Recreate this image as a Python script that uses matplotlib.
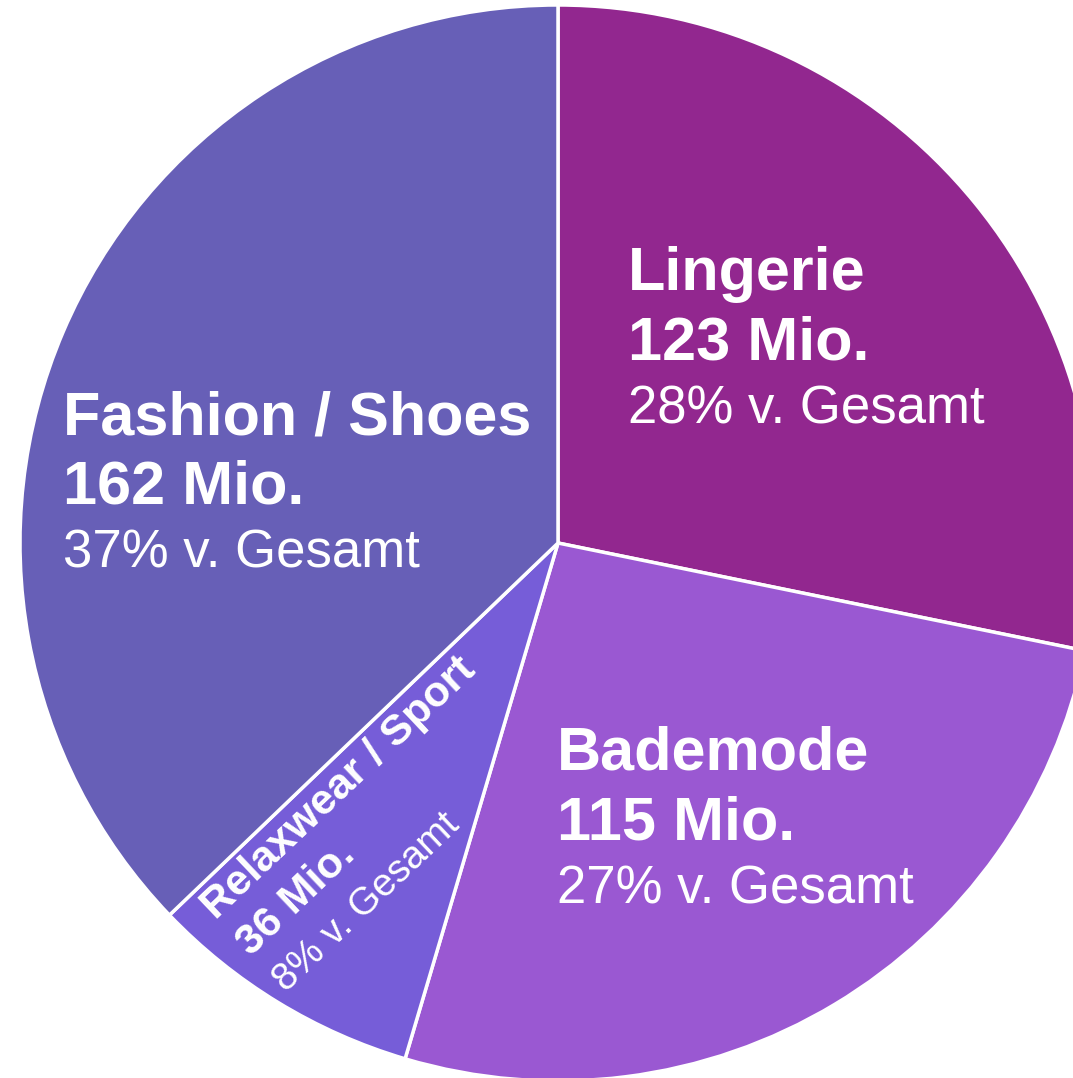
import math

import matplotlib
matplotlib.use("Agg")
import matplotlib.pyplot as plt

W, H = 1073, 1078

# data (clockwise from 12 o'clock)
categories = ["Lingerie", "Bademode", "Relaxwear / Sport", "Fashion / Shoes"]
values = [123, 115, 36, 162]
amounts = ["123 Mio.", "115 Mio.", "36 Mio.", "162 Mio."]
shares = ["28% v. Gesamt", "27% v. Gesamt", "8% v. Gesamt", "37% v. Gesamt"]
colors = ["#92278F", "#9A58D2", "#765DD8", "#675FB7"]

plt.rcParams["font.family"] = ["Liberation Sans", "DejaVu Sans"]

fig = plt.figure(figsize=(W / 100, H / 100), dpi=100)
ax = fig.add_axes([0, 0, 1, 1])

cx, cy, r = 558, 543, 538
ax.pie(values, colors=colors, startangle=90, counterclock=False,
       center=(cx, H - cy), radius=r,
       wedgeprops=dict(edgecolor="white", linewidth=2.5))
ax.set_xlim(0, W)
ax.set_ylim(0, H)
ax.set_aspect("equal")
ax.set_axis_off()


def label(x, y, i, big=44, small=38, gap1=69, gap2=64):
    # x, y: left/baseline of first line, pixel coords from top
    ax.text(x, H - y, categories[i], color="white", fontsize=big,
            fontweight="bold", ha="left", va="baseline")
    ax.text(x, H - y - gap1, amounts[i], color="white", fontsize=big,
            fontweight="bold", ha="left", va="baseline")
    ax.text(x, H - y - gap1 - gap2, shares[i], color="white", fontsize=small,
            ha="left", va="baseline")


label(628, 290, 0)
label(557, 770, 1)
label(63, 435, 3)

# rotated label in the narrow slice
ang = 43.5
a = math.radians(ang)
nx, ny = math.sin(a), -math.cos(a)  # downward normal (y-up coords)
x0, y0 = 216, H - 920
for k, (txt, fs, fw) in enumerate([(categories[2], 31, "bold"),
                                   (amounts[2], 31, "bold"),
                                   (shares[2], 28, "normal")]):
    off = [0, 51, 101][k]
    ax.text(x0 + nx * off, y0 + ny * off, txt, color="white", fontsize=fs,
            fontweight=fw, rotation=ang, rotation_mode="anchor",
            ha="left", va="baseline")

fig.savefig("out.png", dpi=100)
